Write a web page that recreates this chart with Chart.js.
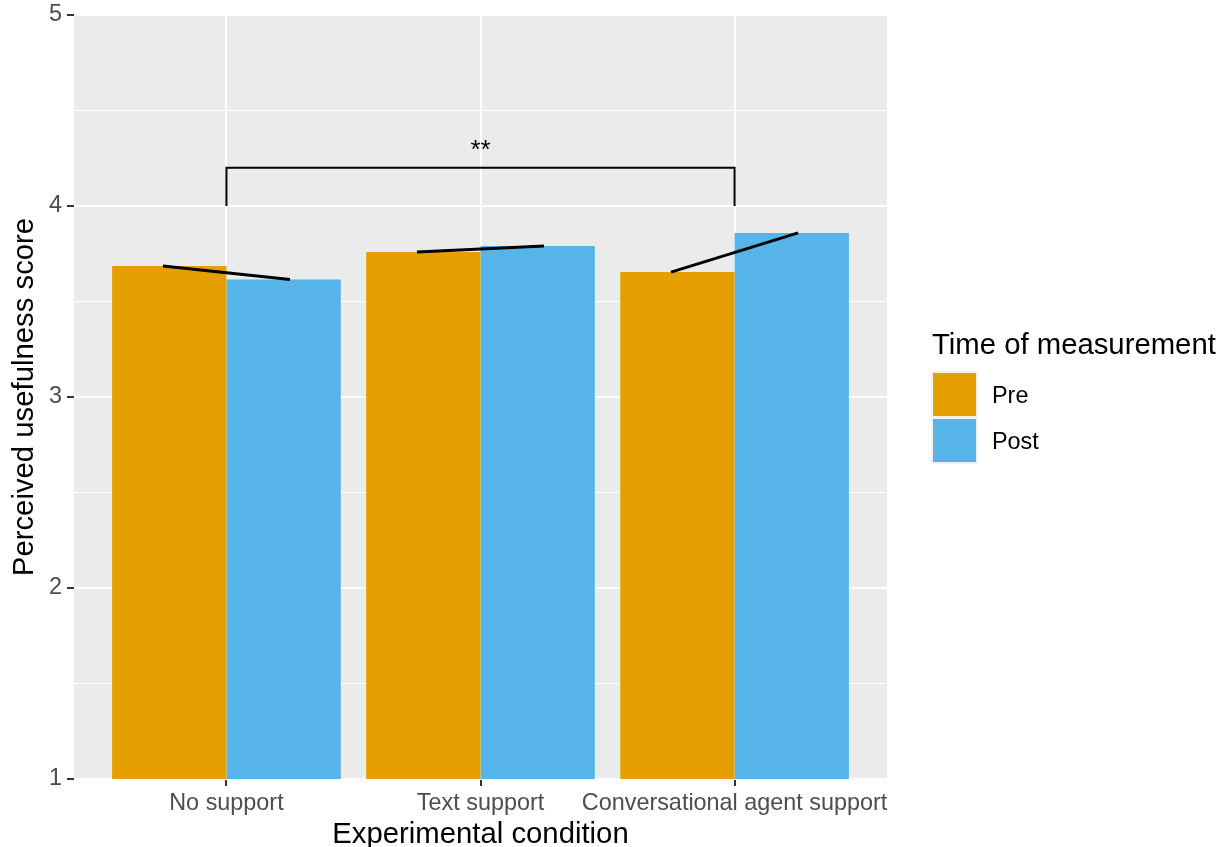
<!DOCTYPE html>
<html>
<head>
<meta charset="utf-8">
<script src="https://cdn.jsdelivr.net/npm/chart.js@4.4.1/dist/chart.umd.min.js"></script>
<style>
  html, body { margin: 0; padding: 0; background: #fff; }
  #wrap { width: 1227px; height: 847px; }
</style>
</head>
<body>
<div id="wrap"><canvas id="chart" width="1227" height="847"></canvas></div>
<script>
// data
const categories = ['No support', 'Text support', 'Conversational agent support'];
const preScores = [3.686, 3.759, 3.654];
const postScores = [3.615, 3.791, 3.859];
const seriesNames = ['Pre', 'Post'];
const yMajorTicks = [1, 2, 3, 4, 5];
const yMinorTicks = [1.5, 2.5, 3.5, 4.5];
// significance bracket: No support vs Conversational agent support
const sigPair = [0, 2];
const sigBarY = 4.2;
const sigTipY = 4.0;
const sigLabelY = 4.25;
const sigLabel = '**';

const FONT = "'Liberation Sans', Arial, Helvetica, sans-serif";
const PRE_COL = '#E69F00';
const POST_COL = '#56B4E9';
const LINE_DODGE = 0.25;

const pairLines = categories.map((c, i) => ({
    type: 'line',
    order: 0,
    data: [{ x: i - LINE_DODGE, y: preScores[i] }, { x: i + LINE_DODGE, y: postScores[i] }],
    borderColor: '#000',
    borderWidth: 3,
    pointRadius: 0,
    fill: false
}));

const bracket = {
    type: 'line',
    order: 0,
    data: [
        { x: sigPair[0], y: sigTipY }, { x: sigPair[0], y: sigBarY },
        { x: sigPair[1], y: sigBarY }, { x: sigPair[1], y: sigTipY }
    ],
    borderColor: '#000',
    borderWidth: 2,
    borderJoinStyle: 'miter',
    pointRadius: 0,
    fill: false
};

const ggPlugin = {
    id: 'gg',
    beforeDraw(chart) {
        const { ctx, chartArea: a } = chart;
        ctx.save();
        ctx.fillStyle = '#fff';
        ctx.fillRect(0, 0, chart.width, chart.height);
        ctx.fillStyle = '#EBEBEB';
        ctx.fillRect(a.left, a.top, a.right - a.left, a.bottom - a.top);
        ctx.restore();
    },
    afterDraw(chart) {
        const { ctx, chartArea: a, scales } = chart;
        ctx.save();
        ctx.fillStyle = '#000';
        // significance label
        ctx.font = `26px ${FONT}`;
        ctx.textAlign = 'center';
        ctx.textBaseline = 'alphabetic';
        ctx.fillText(sigLabel, scales.x.getPixelForValue((sigPair[0] + sigPair[1]) / 2), scales.y.getPixelForValue(sigLabelY));

        // axis titles
        ctx.font = `29.3px ${FONT}`;
        ctx.fillText('Experimental condition', (a.left + a.right) / 2, 843);
        ctx.save();
        ctx.translate(33, (a.top + a.bottom) / 2);
        ctx.rotate(-Math.PI / 2);
        ctx.fillText('Perceived usefulness score', 0, 0);
        ctx.restore();

        // legend
        ctx.textAlign = 'left';
        ctx.fillText('Time of measurement', 932, 354);
        ctx.fillStyle = '#F2F2F2';
        ctx.fillRect(931, 371, 47, 93);
        const cols = [PRE_COL, POST_COL];
        ctx.font = `23.4px ${FONT}`;
        seriesNames.forEach((n, i) => {
            const top = 373 + i * 46;
            ctx.fillStyle = cols[i];
            ctx.fillRect(933, top, 43, 43);
            ctx.fillStyle = '#000';
            ctx.fillText(n, 992, top + 30);
        });
        ctx.restore();
    }
};

new Chart(document.getElementById('chart'), {
    type: 'bar',
    data: {
        datasets: [
            ...pairLines,
            bracket,
            {
                label: seriesNames[0], order: 1,
                data: preScores.map((v, i) => ({ x: i, y: v })),
                backgroundColor: PRE_COL, borderWidth: 0,
                barPercentage: 1, categoryPercentage: 0.9
            },
            {
                label: seriesNames[1], order: 1,
                data: postScores.map((v, i) => ({ x: i, y: v })),
                backgroundColor: POST_COL, borderWidth: 0,
                barPercentage: 1, categoryPercentage: 0.9
            }
        ]
    },
    options: {
        responsive: false,
        devicePixelRatio: 1,
        animation: false,
        layout: { padding: { top: 15, right: 340, bottom: 0, left: 0 } },
        plugins: { legend: { display: false }, tooltip: { enabled: false } },
        scales: {
            x: {
                type: 'linear', min: -0.6, max: 2.6, offset: false,
                afterBuildTicks: s => { s.ticks = categories.map((c, i) => ({ value: i })); },
                afterFit: s => { s.height = 68; s.paddingLeft = 0; s.paddingRight = 0; },
                ticks: {
                    autoSkip: false, maxRotation: 0,
                    callback: v => categories[v],
                    color: '#4D4D4D', font: { family: FONT, size: 23.4 }, padding: 4
                },
                grid: { offset: false, color: '#fff', lineWidth: 2, tickColor: '#333', tickLength: 7, tickWidth: 2 },
                border: { display: false }
            },
            y: {
                type: 'linear', min: 1, max: 5,
                afterBuildTicks: s => {
                    s.ticks = [...yMajorTicks, ...yMinorTicks].sort((p, q) => p - q).map(v => ({ value: v }));
                },
                afterFit: s => { s.width = 74; s.paddingTop = 0; s.paddingBottom = 0; },
                ticks: {
                    autoSkip: false,
                    callback: v => yMajorTicks.includes(v) ? String(v) : '',
                    color: '#4D4D4D', font: { family: FONT, size: 23.4 }, padding: 5
                },
                grid: {
                    color: '#fff',
                    lineWidth: c => yMajorTicks.includes(c.tick.value) ? 2 : 1,
                    tickColor: c => yMajorTicks.includes(c.tick.value) ? '#333' : 'rgba(0,0,0,0)',
                    tickLength: 7, tickWidth: 2
                },
                border: { display: false }
            }
        }
    },
    plugins: [ggPlugin]
});
</script>
</body>
</html>
